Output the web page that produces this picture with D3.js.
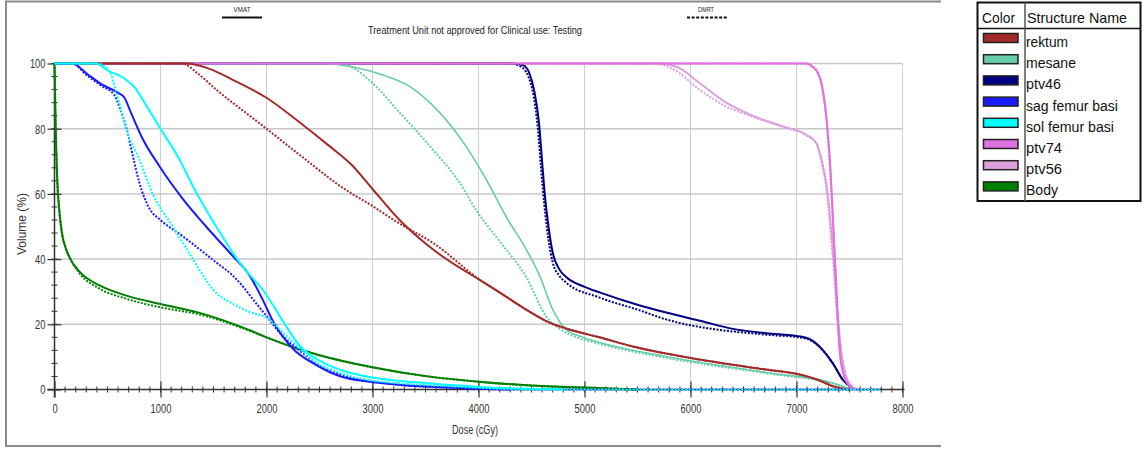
<!DOCTYPE html>
<html><head><meta charset="utf-8">
<script src="https://cdn.jsdelivr.net/npm/d3@7"></script>
<style>
html,body{margin:0;padding:0;background:#fff;}
svg{display:block;font-family:"Liberation Sans",Arial,sans-serif;}
</style></head>
<body><svg id="c" width="1144" height="450"></svg>
<script>
// ---------- DATA ----------
const structureNames = ["rektum","mesane","ptv46","sag femur basi","sol femur basi","ptv74","ptv56","Body"];
const planNames = ["VMAT","DMRT"];
const titleText = "Treatment Unit not approved for Clinical use: Testing";
const xTickValues = [0,1000,2000,3000,4000,5000,6000,7000,8000];
const yTickValues = [0,20,40,60,80,100];
const xLabel = "Dose (cGy)";
const yLabel = "Volume (%)";

// [dose cGy, volume %]
const rektumVmat = [[0,100],[1250,100],[1450,98.5],[1682,95],[2000,89.5],[2311,82],[2600,74.5],[2800,69],[3000,61.5],[3255,52],[3569,43],[4041,33],[4198,29.8],[4450,24.5],[4670,20.5],[4900,18],[5142,16],[5456,13.2],[6085,9.2],[6714,6.1],[7028,4.6],[7200,3],[7343,1],[7440,0.2],[7500,0]];
const rektumImrt = [[0,100],[1200,100],[1350,97],[1525,92],[1840,84],[2000,80],[2311,72],[2783,60.5],[2940,57.5],[3250,51],[3569,45],[4041,33],[4198,29.8],[4450,24.5],[4670,20.5],[4900,18],[5142,16],[5456,13.2],[6085,9.2],[6714,6.1],[7028,4.6],[7200,3],[7343,1],[7440,0.2],[7500,0]];
const mesaneVmat = [[0,100],[2500,100],[2800,99],[3097,96.5],[3349,93],[3632,85],[3884,74.5],[4072,64.5],[4261,53],[4450,43],[4576,35],[4701,24.5],[4827,18.4],[4984,16],[5142,14.4],[5770,10.1],[6714,5.2],[7343,2],[7500,0.3],[7550,0]];
const mesaneImrt = [[0,100],[2700,100],[2850,98],[3000,94],[3255,85],[3569,73.6],[3821,63.5],[3978,55],[4198,45.5],[4450,34.5],[4638,22.5],[4796,18],[4900,16.3],[5142,14],[5770,9.7],[6714,5],[7343,1.8],[7500,0.2],[7550,0]];
const ptv46Vmat = [[0,100],[4330,100],[4420,99.5],[4480,97],[4530,91],[4570,82],[4600,70],[4625,60],[4660,50],[4700,42],[4760,37],[4827,34.5],[5000,31.5],[5142,29.8],[5500,26],[5770,23.6],[6100,21],[6400,18.6],[6800,17],[7028,16.3],[7150,15],[7250,12],[7343,8],[7437,3],[7500,1],[7540,0]];
const ptv46Imrt = [[0,100],[4300,100],[4400,99],[4470,96],[4520,90],[4560,80],[4590,68],[4620,57],[4660,46],[4700,39],[4760,35],[4827,32.8],[5142,28.2],[5500,24.5],[5770,21.5],[6243,18.4],[6400,17.8],[6800,16.6],[7028,16],[7150,14.8],[7250,12],[7343,8],[7437,3],[7500,1],[7540,0]];
const sagVmat = [[0,100],[170,100],[300,97],[450,93.5],[600,91],[660,89.5],[720,85],[830,77],[990,68.5],[1210,58.5],[1430,50],[1680,41],[1840,35],[1965,27.5],[2060,21],[2250,12.5],[2470,7.5],[2700,4],[2940,2.5],[3300,1.3],[3726,0.6],[4000,0.2],[4300,0]];
const sagImrt = [[0,100],[170,100],[300,96.5],[450,93],[560,90.5],[620,86],[680,80],[740,71.5],[800,63.5],[896,55.5],[1000,52],[1210,47],[1370,43],[1525,39],[1680,35],[1780,31.5],[1840,29],[2000,22.5],[2150,16.5],[2311,12],[2470,8],[2700,4.5],[2940,2.8],[3300,1.3],[3726,0.6],[4000,0.2],[4300,0],[7800,0]];
const solVmat = [[0,100],[390,100],[520,97.5],[600,96.5],[675,95],[760,92.5],[830,89],[990,80.5],[1180,70.5],[1336,60.5],[1525,50],[1745,39],[2000,29],[2154,21],[2311,13.5],[2530,8.3],[2700,6],[2943,4],[3300,2.5],[3726,1.4],[4000,0.8],[4500,0.2],[4800,0]];
const solImrt = [[0,100],[400,100],[520,97.5],[585,91],[675,80],[800,70.5],[934,59.5],[1116,50],[1305,40],[1431,33.5],[1500,30.5],[1682,26.3],[1840,23.8],[2000,22],[2217,15.5],[2470,8.3],[2700,5],[2943,3],[3300,1.8],[3726,1],[4000,0.5],[4500,0],[7800,0]];
const ptv74Vmat = [[0,100],[7090,100],[7150,99],[7217,96],[7280,84],[7320,68],[7343,53],[7374,33],[7406,12.3],[7440,5],[7469,2.5],[7520,0.5],[7563,0]];
const ptv74Imrt = [[0,100],[7090,100],[7160,99],[7225,95],[7285,82],[7330,60],[7360,40],[7395,18],[7430,7],[7480,2],[7540,0.5],[7580,0]];
const ptv56Vmat = [[0,100],[5700,100],[5900,98.5],[6085,94],[6337,88],[6557,84.4],[6871,80.7],[7091,78.2],[7186,75.7],[7240,70],[7280,63.5],[7343,43],[7390,22.4],[7430,10],[7469,4],[7520,1],[7563,0]];
const ptv56Imrt = [[0,100],[5650,100],[5850,98],[6085,92],[6337,86.8],[6557,84],[6871,80.5],[7091,78],[7186,75.5],[7240,69],[7280,62],[7343,40],[7390,20],[7430,9],[7469,3.5],[7520,1],[7580,0]];
const bodyVmat = [[0,100],[10,82],[25,65],[45,55],[70,48],[110,43],[150,40],[240,36],[420,32],[680,28.8],[1000,26.2],[1370,23.5],[1840,18.2],[2000,16],[2250,13],[2500,10.5],[3000,6.8],[3500,4.1],[4000,2.4],[4500,1.2],[5000,0.6],[5300,0.2],[5500,0]];
const bodyImrt = [[0,100],[10,82],[25,65],[45,55],[70,48],[110,43],[150,40],[240,35.5],[420,31],[680,27.8],[1000,25.2],[1370,23],[1840,18],[2000,16],[2250,13],[2500,10.5],[3000,6.8],[3500,4.1],[4000,2.4],[4500,1.2],[5000,0.6],[5300,0.2],[5500,0]];

// ---------- CHART ----------
const colors = {"rektum":"#a52a2a","mesane":"#66cdaa","ptv46":"#000080","sag femur basi":"#1a1aff","sol femur basi":"#00ffff","ptv74":"#e070e0","ptv56":"#dda0dd","Body":"#008000"};
const seriesByName = {
  "rektum":[rektumVmat,rektumImrt],"mesane":[mesaneVmat,mesaneImrt],"ptv46":[ptv46Vmat,ptv46Imrt],
  "sag femur basi":[sagVmat,sagImrt],"sol femur basi":[solVmat,solImrt],"ptv74":[ptv74Vmat,ptv74Imrt],
  "ptv56":[ptv56Vmat,ptv56Imrt],"Body":[bodyVmat,bodyImrt]};
const drawOrder = ["Body","ptv56","ptv46","mesane","ptv74","rektum","sag femur basi","sol femur basi"];

const svg = d3.select("#c");
const x = d3.scaleLinear().domain([0,8000]).range([54.5,902.5]);
const y = d3.scaleLinear().domain([0,100]).range([389.5,63.5]);

function fitText(sel, w){ sel.attr("textLength", w).attr("lengthAdjust","spacingAndGlyphs"); return sel; }

// outer frame (open on right)
svg.append("path").attr("d","M941,1.5 H6 V446 H941").attr("fill","none").attr("stroke","#8a8a8a").attr("stroke-width",2);

// grid
const grid = svg.append("g");
grid.selectAll("line.v").data(xTickValues.filter(d=>d>0)).join("line")
  .attr("x1",d=>x(d)).attr("x2",d=>x(d)).attr("y1",y(100)).attr("y2",y(0))
  .attr("stroke","#cfcfcf").attr("stroke-width",1);
grid.selectAll("line.h").data(yTickValues.filter(d=>d>0)).join("line")
  .attr("x1",x(0)).attr("x2",x(8000)).attr("y1",d=>y(d)).attr("y2",d=>y(d))
  .attr("stroke","#c8c8c8").attr("stroke-width",1.5);

// minor ticks
const axCol = "#333";
svg.append("g").selectAll("line").data(d3.range(0,8001,100)).join("line")
  .attr("x1",d=>x(d)).attr("x2",d=>x(d)).attr("y1",y(0)-3).attr("y2",y(0)+3)
  .attr("stroke",axCol).attr("stroke-width",1);
svg.append("g").selectAll("line").data(d3.range(0,101,4)).join("line")
  .attr("x1",x(0)-3).attr("x2",x(0)+3).attr("y1",d=>y(d)).attr("y2",d=>y(d))
  .attr("stroke",axCol).attr("stroke-width",1);

// axes
const gx = svg.append("g").attr("transform",`translate(0,${y(0)})`)
  .call(d3.axisBottom(x).tickValues(xTickValues).tickFormat(d3.format("d")).tickSize(8).tickPadding(0));
gx.select(".domain").attr("d",`M${x(0)-7},0H${x(8000)+2}`).attr("stroke",axCol).attr("stroke-width",1.5);
gx.selectAll(".tick line").attr("y1",-8).attr("y2",8).attr("stroke",axCol).attr("stroke-width",1.2);
gx.selectAll(".tick text").attr("y",23).attr("dy",null).attr("fill","#333").attr("font-size",12)
  .attr("font-family","Liberation Sans, Arial, sans-serif")
  .each(function(d){ fitText(d3.select(this), String(d).length*5.2); });

const gy = svg.append("g").attr("transform",`translate(${x(0)},0)`)
  .call(d3.axisLeft(y).tickValues(yTickValues).tickSize(7).tickPadding(0));
gy.select(".domain").attr("d",`M0,${y(100)}V${y(0)+8}`).attr("stroke",axCol).attr("stroke-width",1.5);
gy.selectAll(".tick line").attr("x1",-7).attr("x2",7).attr("stroke",axCol).attr("stroke-width",1.2);
gy.selectAll(".tick text").attr("x",-9).attr("dy","0.36em").attr("fill","#333").attr("font-size",12)
  .attr("font-family","Liberation Sans, Arial, sans-serif")
  .each(function(d){ fitText(d3.select(this), String(d).length*5.2); });

// axis labels
fitText(svg.append("text").attr("x",475).attr("y",434).attr("text-anchor","middle")
  .attr("font-size",12).attr("fill","#333").text(xLabel), 46);
fitText(svg.append("text").attr("transform","translate(26,224) rotate(-90)").attr("text-anchor","middle")
  .attr("font-size",12).attr("fill","#333").text(yLabel), 62);

// header texts
fitText(svg.append("text").attr("x",475).attr("y",34).attr("text-anchor","middle")
  .attr("font-size",10.5).attr("fill","#222").text(titleText), 214);
fitText(svg.append("text").attr("x",242).attr("y",12).attr("text-anchor","middle")
  .attr("font-size",8).attr("fill","#222").text(planNames[0]), 17);
svg.append("line").attr("x1",222).attr("x2",262).attr("y1",17.5).attr("y2",17.5).attr("stroke","#111").attr("stroke-width",2);
fitText(svg.append("text").attr("x",706).attr("y",12).attr("text-anchor","middle")
  .attr("font-size",8).attr("fill","#222").text(planNames[1]), 16);
svg.append("line").attr("x1",687).attr("x2",727).attr("y1",17.5).attr("y2",17.5).attr("stroke","#111").attr("stroke-width",2).attr("stroke-dasharray","3,1.6");

// curves
const line = d3.line().x(d=>x(d[0])).y(d=>y(d[1])).curve(d3.curveMonotoneX);
const cg = svg.append("g");
drawOrder.forEach(name=>{
  const [vm, im] = seriesByName[name];
  cg.append("path").datum(vm).attr("d",line).attr("fill","none").attr("stroke",colors[name])
    .attr("stroke-width", name==="mesane"?1.6:2);
  cg.append("path").datum(im).attr("d",line).attr("fill","none").attr("stroke",colors[name])
    .attr("stroke-width",2).attr("stroke-dasharray","2,1.5");
});

// legend
const lg = svg.append("g");
lg.append("rect").attr("x",977.5).attr("y",2.5).attr("width",163).attr("height",198.5)
  .attr("fill","#fff").attr("stroke","#111").attr("stroke-width",2);
lg.append("line").attr("x1",977.5).attr("x2",1140.5).attr("y1",28.5).attr("y2",28.5).attr("stroke","#111").attr("stroke-width",1.5);
lg.append("line").attr("x1",1025).attr("x2",1025).attr("y1",2.5).attr("y2",201).attr("stroke","#555").attr("stroke-width",1.5);
fitText(lg.append("text").attr("x",982).attr("y",23).attr("font-size",15.5).attr("fill","#111").text("Color"),33);
fitText(lg.append("text").attr("x",1027).attr("y",23).attr("font-size",14.5).attr("fill","#111").text("Structure Name"),100);
const labelW = {"rektum":42,"mesane":50,"ptv46":35,"sag femur basi":92,"sol femur basi":88,"ptv74":36,"ptv56":36,"Body":32};
structureNames.forEach((name,i)=>{
  const top = 33.5 + i*21.2;
  lg.append("rect").attr("x",983.5).attr("y",top).attr("width",34.5).attr("height",9)
    .attr("fill",colors[name]).attr("stroke","#222").attr("stroke-width",1.5);
  fitText(lg.append("text").attr("x",1026).attr("y",top+13.5).attr("font-size",15.5).attr("fill","#111").text(name), labelW[name]);
});
</script></body></html>
